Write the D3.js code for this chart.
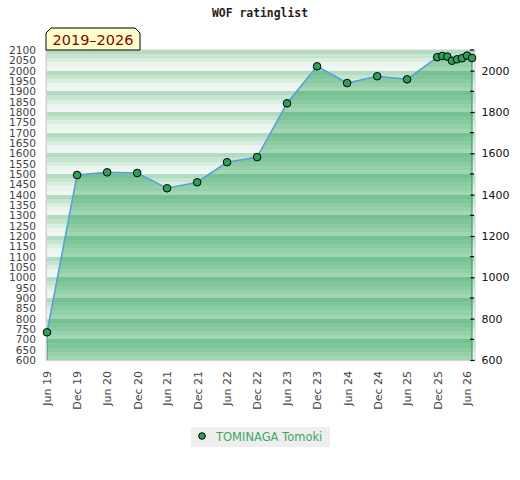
<!DOCTYPE html>
<html>
<head>
<meta charset="utf-8">
<script src="https://cdn.jsdelivr.net/npm/d3@7"></script>
<style>
  body { margin: 0; background: #fff; }
  svg { display: block; }
</style>
</head>
<body>
<div id="chart"></div>
<script>
// rating list data
var dates = ["2019-06", "2019-12", "2020-06", "2020-12", "2021-06", "2021-12",
             "2022-06", "2022-12", "2023-06", "2023-12", "2024-06", "2024-12",
             "2025-06", "2025-12", "2026-01", "2026-02", "2026-03", "2026-04",
             "2026-05", "2026-06", "2026-07"];
var ratings = [734, 1495, 1508, 1505, 1431, 1460,
               1557, 1582, 1842, 2021, 1940, 1973,
               1958, 2065, 2071, 2068, 2048, 2055,
               2060, 2073, 2061];
var tickDates = ["2019-06", "2019-12", "2020-06", "2020-12", "2021-06", "2021-12",
                 "2022-06", "2022-12", "2023-06", "2023-12", "2024-06", "2024-12",
                 "2025-06", "2025-12", "2026-06"];
var leftTicks = d3.range(600, 2101, 50);
var rightTicks = d3.range(600, 2001, 200);
var minorTicks = d3.range(700, 2101, 200);
var playerName = "TOMINAGA Tomoki";
var titleText = "WOF ratinglist";
var periodText = "2019\u20132026";

var w = 520, h = 480;
var font = "'DejaVu Sans', sans-serif";
var parse = d3.timeParse("%Y-%m");
var fmt = d3.timeFormat("%b %y");

var dataset = dates.map(function(d, i) { return { date: parse(d), rating: ratings[i] }; });

var xScale = d3.scaleTime()
  .domain([parse("2019-06"), parse("2026-07")])
  .range([47, 472]);
var yScale = d3.scaleLinear()
  .domain([600, 2100])
  .range([360, 50]);

var svg = d3.select("#chart").append("svg")
  .attr("width", w)
  .attr("height", h);

var defs = svg.append("defs");

// repeating stripes, one period per 100 rating points
function stripes(id, cols) {
  var g = defs.append("linearGradient")
    .attr("id", id)
    .attr("gradientUnits", "userSpaceOnUse")
    .attr("x1", 0).attr("x2", 0)
    .attr("y1", yScale(2100)).attr("y2", yScale(2000))
    .attr("spreadMethod", "repeat");
  cols.forEach(function(c, i) {
    g.append("stop").attr("offset", i / cols.length).attr("stop-color", c);
    g.append("stop").attr("offset", (i + 1) / cols.length).attr("stop-color", c);
  });
}
stripes("bgStripes", ["#b2dcc2", "#c5e5d0", "#d8eedf", "#ebf5ee", "#f0f7f2"]);
stripes("areaStripes", ["#76c191", "#80c699", "#8bcba2", "#96d0ab", "#a1d6b4"]);

// plot background
svg.append("rect")
  .attr("x", 46).attr("y", yScale(2100))
  .attr("width", 429).attr("height", yScale(600) - yScale(2100))
  .attr("fill", "url(#bgStripes)")
  .attr("stroke", "#d0d0d0")
  .attr("stroke-width", 1);

var area = d3.area()
  .x(function(d) { return xScale(d.date); })
  .y0(function() { return yScale.range()[0]; })
  .y1(function(d) { return yScale(d.rating); });

var line = d3.line()
  .x(function(d) { return xScale(d.date); })
  .y(function(d) { return yScale(d.rating); });

svg.append("path")
  .datum(dataset)
  .attr("d", area)
  .attr("fill", "url(#areaStripes)");

// green side edges of the area
var first = dataset[0], last = dataset[dataset.length - 1];
[first, last].forEach(function(d) {
  svg.append("line")
    .attr("x1", xScale(d.date)).attr("x2", xScale(d.date))
    .attr("y1", yScale(d.rating)).attr("y2", yScale(600))
    .attr("stroke", "#3aa060")
    .attr("stroke-width", 1.2);
});

svg.append("path")
  .datum(dataset)
  .attr("d", line)
  .attr("fill", "none")
  .attr("stroke", "#5a9fd8")
  .attr("stroke-width", 1.6);

// bottom baseline
svg.append("line")
  .attr("x1", 46).attr("x2", 475)
  .attr("y1", 360.5).attr("y2", 360.5)
  .attr("stroke", "#d0d0d0");

// left axis
var yAxis = d3.axisLeft(yScale).tickValues(leftTicks).tickSize(0).tickPadding(10)
  .tickFormat(d3.format("d"));
var gl = svg.append("g")
  .attr("transform", "translate(46,0)")
  .call(yAxis);
gl.select(".domain").attr("stroke", "#d0d0d0");
gl.selectAll("text")
  .attr("font-family", font)
  .attr("font-size", 10.6)
  .attr("fill", "#444");

// right axis
var xr = xScale(last.date);
var yAxisR = d3.axisRight(yScale).tickValues(rightTicks).tickSize(3).tickPadding(8)
  .tickFormat(d3.format("d"));
var gr = svg.append("g")
  .attr("transform", "translate(" + (xr - 1.5) + ",0)")
  .call(yAxisR);
gr.select(".domain").remove();
gr.selectAll(".tick line").attr("x1", 0).attr("x2", 4).attr("stroke", "#000").attr("stroke-width", 1.2);
gr.selectAll("text")
  .attr("font-family", font)
  .attr("font-size", 11)
  .attr("fill", "#111");
svg.append("g").selectAll("line")
  .data(minorTicks)
  .enter().append("line")
  .attr("x1", xr - 2).attr("x2", xr + 2)
  .attr("y1", function(d) { return yScale(d); })
  .attr("y2", function(d) { return yScale(d); })
  .attr("stroke", "#000")
  .attr("stroke-width", 1.2);

// bottom axis
var xAxis = d3.axisBottom(xScale)
  .tickValues(tickDates.map(parse))
  .tickFormat(fmt)
  .tickSize(0);
var gb = svg.append("g")
  .attr("transform", "translate(0,360)")
  .call(xAxis);
gb.select(".domain").remove();
gb.selectAll("text")
  .attr("font-family", font)
  .attr("font-size", 11)
  .attr("fill", "#444")
  .attr("text-anchor", "end")
  .attr("dy", "0.35em")
  .attr("transform", "translate(0,11) rotate(-90)")
  .attr("x", 0).attr("y", 0);

// markers
svg.append("g").selectAll("circle")
  .data(dataset)
  .enter().append("circle")
  .attr("cx", function(d) { return xScale(d.date); })
  .attr("cy", function(d) { return yScale(d.rating); })
  .attr("r", 3.8)
  .attr("fill", "#2fa05a")
  .attr("stroke", "#000")
  .attr("stroke-width", 1);

// title
svg.append("text")
  .attr("x", 260).attr("y", 17)
  .attr("text-anchor", "middle")
  .attr("font-family", "DejaVu Sans Mono, monospace")
  .attr("font-weight", "bold")
  .attr("font-size", 11.4)
  .attr("fill", "#222")
  .text(titleText);

// period label box
var bx = 46, by = 28, bw = 94, bh = 22, c = 5;
svg.append("path")
  .attr("d", "M" + bx + "," + (by + bh) + "V" + (by + c) + "L" + (bx + c) + "," + by +
             "H" + (bx + bw - c) + "L" + (bx + bw) + "," + (by + c) + "V" + (by + bh) + "Z")
  .attr("fill", "#ffffcc")
  .attr("stroke", "#000")
  .attr("stroke-width", 1);
svg.append("text")
  .attr("x", bx + bw / 2).attr("y", by + 17)
  .attr("text-anchor", "middle")
  .attr("font-family", font)
  .attr("font-size", 14.5)
  .attr("fill", "#8b0000")
  .text(periodText);

// legend
var lg = svg.append("g");
lg.append("rect")
  .attr("x", 191).attr("y", 427)
  .attr("width", 139).attr("height", 20)
  .attr("fill", "#eeeeee");
lg.append("circle")
  .attr("cx", 202).attr("cy", 436)
  .attr("r", 3.3)
  .attr("fill", "#2fa05a")
  .attr("stroke", "#000")
  .attr("stroke-width", 1);
lg.append("text")
  .attr("x", 216).attr("y", 441)
  .attr("font-family", font)
  .attr("font-size", 11.5)
  .attr("fill", "#3aa860")
  .text(playerName);
</script>
</body>
</html>
